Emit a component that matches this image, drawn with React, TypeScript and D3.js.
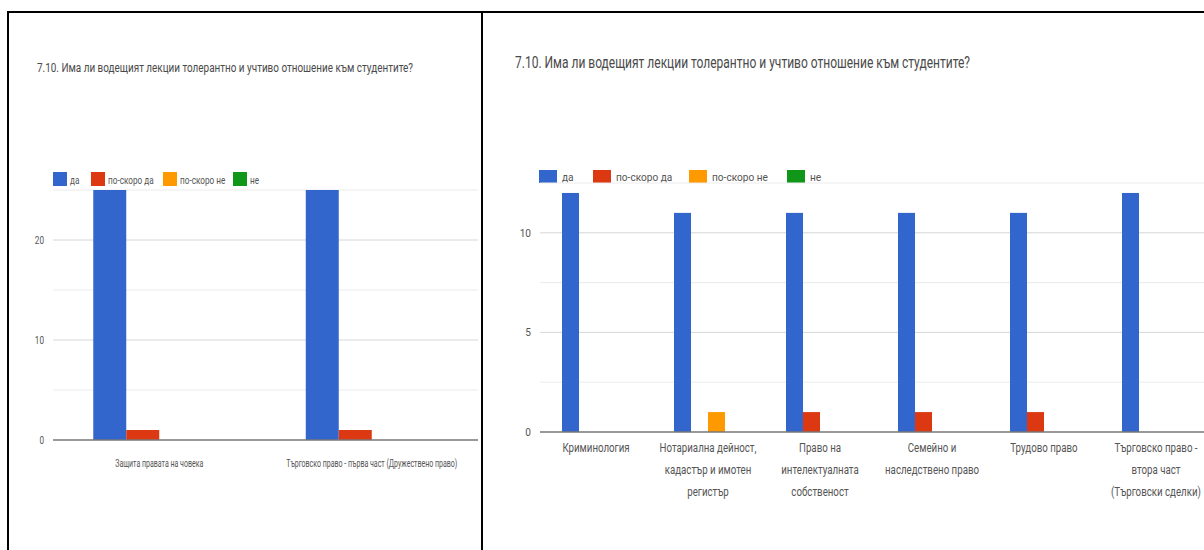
import React from "react";
import * as d3 from "d3";

const TITLE = "7.10. Има ли водещият лекции толерантно и учтиво отношение към студентите?";
const SERIES = ["да", "по-скоро да", "по-скоро не", "не"];
const COLORS = ["#3366cc", "#dc3912", "#ff9900", "#109618"];

const leftCategories = [
  ["Защита правата на човека"],
  ["Търговско право - първа част (Дружествено право)"],
];
const leftDa = [25, 25];
const leftPoSkoroDa = [1, 1];
const leftPoSkoroNe = [0, 0];
const leftNe = [0, 0];
const leftTickLabels = [0, 10, 20];

const rightCategories = [
  ["Криминология"],
  ["Нотариална дейност,", "кадастър и имотен", "регистър"],
  ["Право на", "интелектуалната", "собственост"],
  ["Семейно и", "наследствено право"],
  ["Трудово право"],
  ["Търговско право -", "втора част", "(Търговски сделки)"],
];
const rightDa = [12, 11, 11, 11, 11, 12];
const rightPoSkoroDa = [0, 0, 1, 1, 1, 0];
const rightPoSkoroNe = [0, 1, 0, 0, 0, 0];
const rightNe = [0, 0, 0, 0, 0, 0];
const rightTickLabels = [0, 5, 10];

const FONT = "'Liberation Sans Narrow', 'Arial Narrow', Roboto, sans-serif";
const TEXT = "#555";

function SText({ x, y, sx = 1, anchor = "start", size, fill = TEXT, children, textLength }: any) {
  return (
    <text
      transform={`translate(${x},${y}) scale(${sx},1)`}
      textAnchor={anchor}
      fontSize={size}
      fill={fill}
      fontFamily={FONT}
      textLength={textLength}
      lengthAdjust={textLength ? "spacingAndGlyphs" : undefined}
    >
      {children}
    </text>
  );
}

function Panel({ L, categories, series, tickLabels }: any) {
  const names = categories.map((c: string[]) => c.join(" "));
  const x0 = d3.scaleBand().domain(names).range([L.x0, L.x1]).paddingInner(L.padIn).paddingOuter(L.padIn / 2);
  const x1 = d3.scaleBand().domain(SERIES).range([0, x0.bandwidth()]);
  const y = d3.scaleLinear().domain([0, L.max]).range([L.yBase, L.yTop]);
  const grid = d3.range(L.gridStep, L.max + 1e-6, L.gridStep);
  return (
    <g>
      <SText x={L.titleX} y={L.titleY} size={L.titleSize} textLength={L.titleLen} fill="#4a4a4a">
        {TITLE}
      </SText>
      {SERIES.map((s, i) => (
        <g key={s}>
          <rect x={L.legendX[i]} y={L.legendY} width={L.legW} height={L.legH} fill={COLORS[i]} />
          <SText x={L.legendX[i] + L.legW + L.legGap} y={L.legendY + L.legH - 2} size={L.legSize} sx={L.sx}>
            {s}
          </SText>
        </g>
      ))}
      {grid.map((g: number) => (
        <line key={g} x1={L.x0} x2={L.x1} y1={y(g)} y2={y(g)} stroke={tickLabels.includes(Math.round(g * 100) / 100) ? "#d6d6d6" : "#ebebeb"} strokeWidth={1} />
      ))}
      {tickLabels.map((t: number) => (
        <SText key={t} x={L.x0 - 9} y={y(t) + 4} anchor="end" size={L.axSize} sx={L.sx}>
          {t}
        </SText>
      ))}
      {names.map((n: string, ci: number) => (
        <g key={n}>
          {series.map((vals: number[], si: number) =>
            vals[ci] > 0 ? (
              <rect
                key={si}
                x={(x0(n) as number) + (x1(SERIES[si]) as number)}
                y={y(vals[ci])}
                width={x1.bandwidth()}
                height={L.yBase - y(vals[ci])}
                fill={COLORS[si]}
              />
            ) : null
          )}
          {categories[ci].map((line: string, li: number) => (
            <SText
              key={li}
              x={(x0(n) as number) + x0.bandwidth() / 2}
              y={L.labY + li * L.labLH}
              anchor="middle"
              size={L.labSize}
              sx={L.labSx}
            >
              {line}
            </SText>
          ))}
        </g>
      ))}
      <line x1={L.x0} x2={L.x1} y1={L.yBase} y2={L.yBase} stroke="#777" strokeWidth={1.5} />
    </g>
  );
}

const LEFT = {
  x0: 53, x1: 478, yTop: 190, yBase: 440, max: 25, gridStep: 5, padIn: 0.379,
  titleX: 37, titleY: 72, titleSize: 13, titleLen: 376,
  legendX: [53, 91, 163, 233], legendY: 172, legW: 14, legH: 14, legGap: 3, legSize: 10,
  axSize: 10, labY: 467, labLH: 14, labSize: 11, sx: 0.82, labSx: 0.64,
};
const RIGHT = {
  x0: 540, x1: 1212, yTop: 183, yBase: 432, max: 12.5, gridStep: 2.5, padIn: 0.393,
  titleX: 515, titleY: 68, titleSize: 16, titleLen: 455,
  legendX: [539, 593, 689, 787], legendY: 170, legW: 18, legH: 13, legGap: 5, legSize: 11,
  axSize: 11, labY: 452, labLH: 22, labSize: 12, sx: 0.92, labSx: 0.81,
};

export default function App() {
  return (
    <svg
      width={1204}
      height={550}
      style={{ position: "absolute", left: 0, top: 0, background: "#fff" }}
    >
      <rect x={0} y={0} width={1204} height={550} fill="#fff" />
      <Panel L={LEFT} categories={leftCategories} series={[leftDa, leftPoSkoroDa, leftPoSkoroNe, leftNe]} tickLabels={leftTickLabels} />
      <Panel L={RIGHT} categories={rightCategories} series={[rightDa, rightPoSkoroDa, rightPoSkoroNe, rightNe]} tickLabels={rightTickLabels} />
      <line x1={7} x2={1204} y1={12} y2={12} stroke="#000" strokeWidth={2} />
      <line x1={8} x2={8} y1={11} y2={550} stroke="#000" strokeWidth={2} />
      <line x1={482} x2={482} y1={11} y2={550} stroke="#000" strokeWidth={2} />
    </svg>
  );
}
